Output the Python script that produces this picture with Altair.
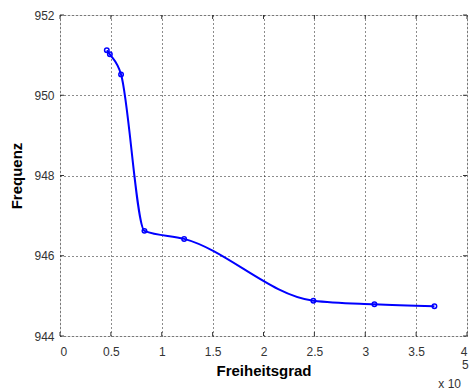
import altair as alt
import pandas as pd

# data (x in units of 1e5)
freiheitsgrad = [0.46, 0.49, 0.60, 0.83, 1.22, 2.49, 3.09, 3.68]
frequenz = [951.12, 951.02, 950.52, 946.62, 946.42, 944.88, 944.79, 944.74]
x_ticks = [0, 0.5, 1, 1.5, 2, 2.5, 3, 3.5, 4]
y_ticks = [944, 946, 948, 950, 952]

df = pd.DataFrame({"x": freiheitsgrad, "y": frequenz})
W, H = 407, 321
FONT = "Liberation Sans"

xs = alt.Scale(domain=[0, 4], nice=False)
ys = alt.Scale(domain=[944, 952], nice=False, zero=False)

xaxis = alt.Axis(values=x_ticks, format="~g", title="Freiheitsgrad", grid=True,
                 gridDash=[1, 3], gridColor="#000000", gridOpacity=0.9,
                 ticks=False, domain=False, labelPadding=10, titlePadding=6,
                 labelFont=FONT, labelFontSize=12, labelColor="#333333",
                 titleFont=FONT, titleFontSize=15, titleFontWeight="bold", titleColor="#000000")
yaxis = alt.Axis(values=y_ticks, title="Frequenz", grid=True,
                 gridDash=[1, 3], gridColor="#000000", gridOpacity=0.9,
                 ticks=False, domain=False, labelPadding=6, titlePadding=9,
                 labelFont=FONT, labelFontSize=12, labelColor="#333333",
                 titleFont=FONT, titleFontSize=15, titleFontWeight="bold", titleColor="#000000")

line = alt.Chart(df).mark_line(color="#0000ff", strokeWidth=2, interpolate="monotone").encode(
    x=alt.X("x:Q", scale=xs, axis=xaxis),
    y=alt.Y("y:Q", scale=ys, axis=yaxis),
)
pts = alt.Chart(df).mark_point(shape="circle", size=20, color="#0000ff", strokeWidth=1.5, filled=False, opacity=1).encode(
    x=alt.X("x:Q", scale=xs), y=alt.Y("y:Q", scale=ys)
)

xt = pd.DataFrame({"t": x_ticks})
yt = pd.DataFrame({"t": y_ticks})
tick_col = "#333333"
xb = alt.Chart(xt).mark_rule(color=tick_col, strokeWidth=1).encode(
    x=alt.X("t:Q", scale=xs), y=alt.value(H), y2=alt.value(H - 4))
xtp = alt.Chart(xt).mark_rule(color=tick_col, strokeWidth=1).encode(
    x=alt.X("t:Q", scale=xs), y=alt.value(0), y2=alt.value(4))
yl = alt.Chart(yt).mark_rule(color=tick_col, strokeWidth=1).encode(
    y=alt.Y("t:Q", scale=ys), x=alt.value(0), x2=alt.value(4))
yr = alt.Chart(yt).mark_rule(color=tick_col, strokeWidth=1).encode(
    y=alt.Y("t:Q", scale=ys), x=alt.value(W), x2=alt.value(W - 4))

exp_base = alt.Chart(pd.DataFrame({"s": ["x 10"]})).mark_text(
    font=FONT, fontSize=12, color="#333333", align="right", baseline="alphabetic").encode(
    text="s:N", x=alt.value(W - 6), y=alt.value(H + 52))
exp_sup = alt.Chart(pd.DataFrame({"s": ["5"]})).mark_text(
    font=FONT, fontSize=12, color="#333333", align="left", baseline="alphabetic").encode(
    text="s:N", x=alt.value(W - 5), y=alt.value(H + 33))

chart = alt.layer(line, pts, xb, xtp, yl, yr, exp_base, exp_sup).properties(
    width=W, height=H,
    autosize=alt.AutoSizeParams(type="none"),
    padding={"left": 60, "top": 15, "right": 3, "bottom": 54},
).configure_view(stroke="#333333", strokeWidth=1).configure(background="white")

chart.save("out.html", embed_options={"renderer": "svg", "actions": False})
